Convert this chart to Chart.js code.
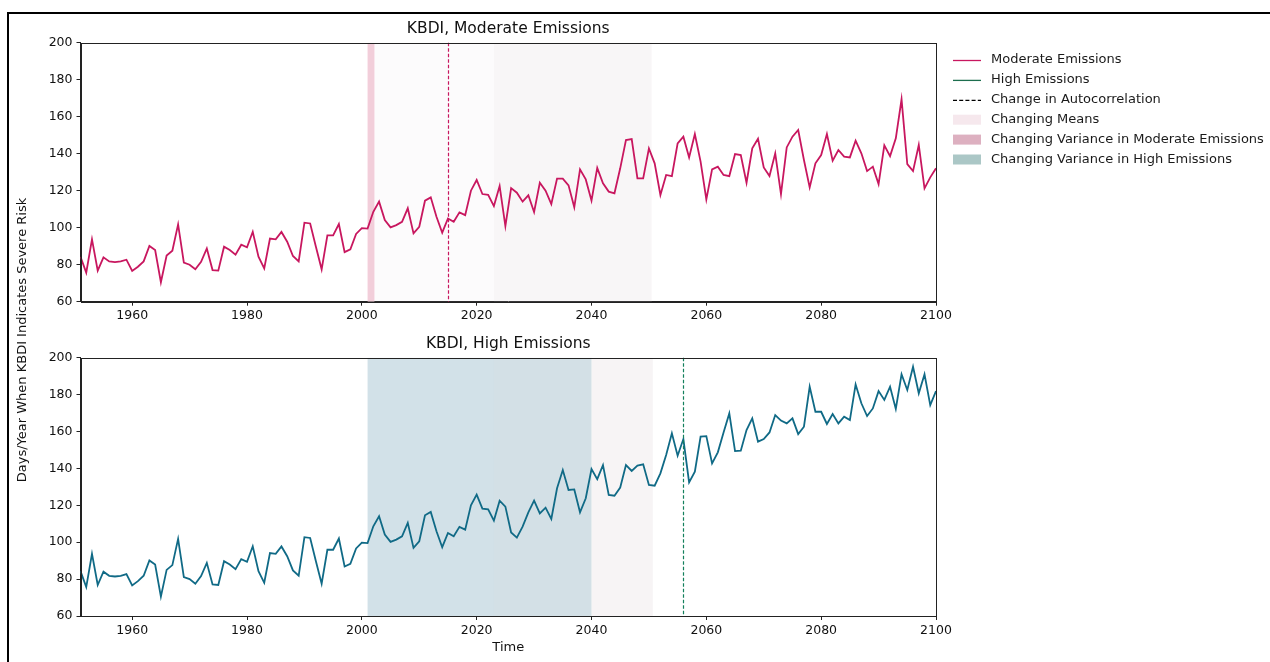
<!DOCTYPE html>
<html>
<head>
<meta charset="utf-8">
<script src="https://cdn.jsdelivr.net/npm/chart.js@4.4.1/dist/chart.umd.min.js"></script>
<style>
  html, body { margin: 0; padding: 0; background: #fff; }
  #wrap { position: relative; width: 1270px; height: 662px; overflow: hidden; background: #fff; }
  #frame { position: absolute; left: 7px; top: 12px; width: 1300px; height: 700px;
           border-top: 2px solid #000; border-left: 2px solid #000; }
  canvas { position: absolute; left: 0; top: 0; }
</style>
</head>
<body>
<div id="wrap">
  <div id="frame"></div>
  <canvas id="lower" width="1270" height="662"></canvas>
  <canvas id="upper" width="1270" height="330"></canvas>
</div>
<script>
// Years 1951–2100 on the x axis
const firstYear = 1951;
const lastYear = 2100;

// Shared observed/historical record, 1951–2024 (days per year)
const historical = [
  84.3, 75.7, 93.7, 76.8, 84.0, 81.8, 81.4, 81.8, 82.7,
  76.6, 78.9, 81.8, 90.1, 87.9, 70.5, 85.0, 87.6, 101.8, 81.1,
  80.0, 77.5, 81.6, 88.8, 77.1, 76.8, 89.7, 87.9, 85.4, 90.8,
  89.4, 97.8, 84.3, 78.0, 94.1, 93.7, 97.7, 92.4, 84.7, 81.8,
  102.7, 102.3, 89.7, 77.5, 95.9, 95.9, 102.0, 86.8, 88.3, 96.6,
  99.8, 99.5, 108.6, 114.1, 104.1, 100.2, 101.4, 103.2, 110.5, 96.9,
  100.5, 114.6, 116.4, 105.9, 97.3, 105.0, 103.2, 108.3, 106.8, 120.0,
  125.8, 118.2, 117.8, 111.7, 122.5
];

// Moderate emissions projection, 2025–2100
const moderateFuture = [
  100.9, 121.4, 118.9, 114.1, 117.5, 108.5, 124.3, 120.0, 112.8, 126.5,
  126.5, 122.9, 111.0, 131.5, 126.1, 114.6, 132.3, 124.0, 119.5, 118.6,
  132.1, 147.4, 147.9, 126.7, 126.7, 142.8, 134.8, 117.7, 128.5, 127.9,
  145.6, 149.2, 138.0, 150.6, 135.7, 115.3, 131.5, 133.0, 128.5, 127.9,
  139.8, 139.3, 124.3, 142.9, 148.1, 132.6, 127.9, 140.2, 118.2, 143.4,
  149.2, 152.8, 136.6, 121.8, 134.8, 139.3, 150.6, 136.2, 142.0, 138.4,
  138.0, 147.0, 140.2, 130.6, 133.0, 123.6, 144.5, 138.7, 148.3, 169.4,
  134.4, 130.6, 144.7, 121.3, 127.2, 132.1
];

// High emissions projection, 2025–2100
const highFuture = [
  119.3, 105.3, 102.5, 108.4, 116.2, 122.5, 115.6, 118.7, 112.6, 129.2,
  139.1, 128.3, 128.6, 116.2, 123.8, 139.7, 134.2, 141.8, 125.6, 125.2,
  129.6, 141.8, 138.6, 141.5, 142.2, 131.0, 130.6, 137.3, 147.3, 159.0,
  146.9, 155.9, 132.4, 138.2, 157.2, 157.5, 142.7, 148.7, 159.5, 169.8,
  149.4, 149.6, 160.8, 167.1, 154.5, 155.9, 159.5, 168.9, 165.9, 164.4,
  167.1, 158.6, 162.6, 184.3, 170.7, 170.7, 164.1, 169.5, 164.4, 168.0,
  166.2, 185.5, 175.3, 168.4, 172.5, 181.9, 177.1, 184.3, 172.2, 191.0,
  182.5, 195.1, 180.7, 191.0, 174.3, 181.9
];

// Axis ticks
const xTicks = [1960, 1980, 2000, 2020, 2040, 2060, 2080, 2100];
const yTicks = [60, 80, 100, 120, 140, 160, 180, 200];

// Detected change periods (years)
const moderateVarianceSpan = [2001, 2002.2];
const moderateMeanSpans = [[2002.2, 2050.5], [2023, 2050.5]];
const moderateAutocorrYear = 2015;
const highVarianceSpan = [2001, 2040];
const highMeanSpans = [[2023, 2050.7], [2040, 2050.7]];
const highAutocorrYear = 2056;

const moderateSeries = historical.concat(moderateFuture);
const highSeries = historical.concat(highFuture);
const years = Array.from({ length: lastYear - firstYear + 1 }, (_, i) => firstYear + i);
const toPoints = arr => years.map((yr, i) => ({ x: yr, y: arr[i] }));

const FONT = '"DejaVu Sans", "Liberation Sans", sans-serif';
const MOD_COLOR = '#c8175f';
const HIGH_COLOR = '#106a86';
const HIGH_MARK_COLOR = '#13805c';

const legendItems = [
  { kind: 'line', color: '#c8175f', label: 'Moderate Emissions' },
  { kind: 'line', color: '#1d6e4e', label: 'High Emissions' },
  { kind: 'dash', color: '#000000', label: 'Change in Autocorrelation' },
  { kind: 'patch', color: '#f6e8ed', label: 'Changing Means' },
  { kind: 'patch', color: '#ddb0c0', label: 'Changing Variance in Moderate Emissions' },
  { kind: 'patch', color: '#abc7c6', label: 'Changing Variance in High Emissions' }
];

// Shaded periods, dashed markers, spines, titles and the shared legend
function makeDecor(pluginId, cfg) {
  return {
    id: pluginId,
    beforeDatasetsDraw(chart) {
      const { ctx, chartArea: a, scales: { x } } = chart;
      ctx.save();
      ctx.beginPath();
      ctx.rect(a.left, a.top, a.width, a.height);
      ctx.clip();
      cfg.bands.forEach(b => {
        const x0 = x.getPixelForValue(b.from);
        const x1 = x.getPixelForValue(b.to);
        ctx.fillStyle = b.fill;
        ctx.fillRect(x0, a.top, x1 - x0, a.height);
      });
      ctx.restore();
    },
    afterDatasetsDraw(chart) {
      const { ctx, chartArea: a, scales: { x } } = chart;
      ctx.save();
      cfg.vlines.forEach(v => {
        const px = Math.round(x.getPixelForValue(v.at)) + 0.5;
        ctx.strokeStyle = v.stroke;
        ctx.globalAlpha = 1;
        ctx.lineWidth = 1.2;
        ctx.setLineDash([3.5, 2]);
        ctx.beginPath();
        ctx.moveTo(px, a.top);
        ctx.lineTo(px, a.bottom);
        ctx.stroke();
      });
      ctx.restore();
    },
    afterDraw(chart) {
      const { ctx, chartArea: a } = chart;
      ctx.save();
      ctx.strokeStyle = '#222';
      ctx.lineWidth = 1;
      ctx.strokeRect(Math.round(a.left) + 0.5, Math.round(a.top) + 0.5,
                     Math.round(a.right) - Math.round(a.left), Math.round(a.bottom) - Math.round(a.top));
      ctx.fillStyle = '#111';
      ctx.textAlign = 'center';
      ctx.textBaseline = 'middle';
      ctx.font = '15.5px ' + FONT;
      ctx.fillText(cfg.title, (a.left + a.right) / 2, cfg.titleY);
      if (cfg.xLabel) {
        ctx.font = '13px ' + FONT;
        ctx.fillText(cfg.xLabel, (a.left + a.right) / 2, cfg.xLabelY);
      }
      if (cfg.yLabel) {
        ctx.save();
        ctx.translate(cfg.yLabelX, cfg.yLabelY);
        ctx.rotate(-Math.PI / 2);
        ctx.font = '13px ' + FONT;
        ctx.fillText(cfg.yLabel, 0, 0);
        ctx.restore();
      }
      if (cfg.legend) {
        const lx = 953, tx = 991, y0 = 60, step = 19.9;
        ctx.textAlign = 'left';
        ctx.font = '13px ' + FONT;
        cfg.legend.forEach((it, i) => {
          const cy = y0 + i * step;
          if (it.kind === 'patch') {
            ctx.fillStyle = it.color;
            ctx.fillRect(lx, cy - 5, 28, 10);
          } else {
            ctx.strokeStyle = it.color;
            ctx.lineWidth = 1.3;
            ctx.setLineDash(it.kind === 'dash' ? [4, 2.2] : []);
            ctx.beginPath();
            ctx.moveTo(lx, cy + 0.5);
            ctx.lineTo(lx + 28, cy + 0.5);
            ctx.stroke();
            ctx.setLineDash([]);
          }
          ctx.fillStyle = '#1a1a1a';
          ctx.fillText(it.label, tx, cy);
        });
      }
      ctx.restore();
    }
  };
}

function makeScales() {
  const tickFont = { family: FONT, size: 12.5 };
  return {
    x: {
      type: 'linear', min: firstYear, max: lastYear,
      afterBuildTicks: s => { s.ticks = xTicks.map(v => ({ value: v })); },
      afterFit: s => { s.height = 24; },
      grid: { display: true, drawOnChartArea: false, drawTicks: true, tickLength: 4, color: '#222' },
      border: { display: true, color: '#222', width: 1 },
      ticks: { color: '#111', font: tickFont, padding: 3, maxRotation: 0, autoSkip: false,
               callback: v => String(v) }
    },
    y: {
      type: 'linear', min: 60, max: 200,
      afterBuildTicks: s => { s.ticks = yTicks.map(v => ({ value: v })); },
      afterFit: s => { s.width = 50; },
      grid: { display: true, drawOnChartArea: false, drawTicks: true, tickLength: 4, color: '#222' },
      border: { display: true, color: '#222', width: 1 },
      ticks: { color: '#111', font: tickFont, padding: 4, callback: v => String(v) }
    }
  };
}

function lineDataset(label, values, color) {
  return {
    label, data: toPoints(values), borderColor: color, backgroundColor: color,
    borderWidth: 1.8, pointRadius: 0, tension: 0, fill: false
  };
}

const baseOptions = padding => ({
  responsive: false, animation: false, devicePixelRatio: 1,
  layout: { padding },
  plugins: { legend: { display: false }, tooltip: { enabled: false }, title: { display: false } },
  scales: makeScales()
});

new Chart(document.getElementById('lower'), {
  type: 'line',
  data: { datasets: [lineDataset('High Emissions', highSeries, HIGH_COLOR)] },
  options: baseOptions({ left: 30.5, right: 334, top: 357.7, bottom: 22 }),
  plugins: [makeDecor('decorHigh', {
    bands: [
      { from: highVarianceSpan[0], to: highVarianceSpan[1], fill: 'rgb(210,225,232)' },
      { from: highMeanSpans[0][0], to: highMeanSpans[0][1], fill: 'rgba(225,215,220,0.08)' },
      { from: highMeanSpans[1][0], to: highMeanSpans[1][1], fill: 'rgba(225,215,220,0.2)' }
    ],
    vlines: [{ at: highAutocorrYear, stroke: HIGH_MARK_COLOR }],
    title: 'KBDI, High Emissions', titleY: 344,
    xLabel: 'Time', xLabelY: 648,
    yLabel: 'Days/Year When KBDI Indicates Severe Risk', yLabelX: 23, yLabelY: 340
  })]
});

new Chart(document.getElementById('upper'), {
  type: 'line',
  data: { datasets: [lineDataset('Moderate Emissions', moderateSeries, MOD_COLOR)] },
  options: baseOptions({ left: 30.5, right: 334, top: 42.7, bottom: 4.3 }),
  plugins: [makeDecor('decorModerate', {
    bands: [
      { from: moderateMeanSpans[0][0], to: moderateMeanSpans[0][1], fill: 'rgba(225,215,230,0.1)' },
      { from: moderateMeanSpans[1][0], to: moderateMeanSpans[1][1], fill: 'rgba(225,222,222,0.14)' },
      { from: moderateVarianceSpan[0], to: moderateVarianceSpan[1], fill: 'rgb(242,206,218)' }
    ],
    vlines: [{ at: moderateAutocorrYear, stroke: MOD_COLOR }],
    title: 'KBDI, Moderate Emissions', titleY: 29,
    legend: legendItems
  })]
});
</script>
</body>
</html>
